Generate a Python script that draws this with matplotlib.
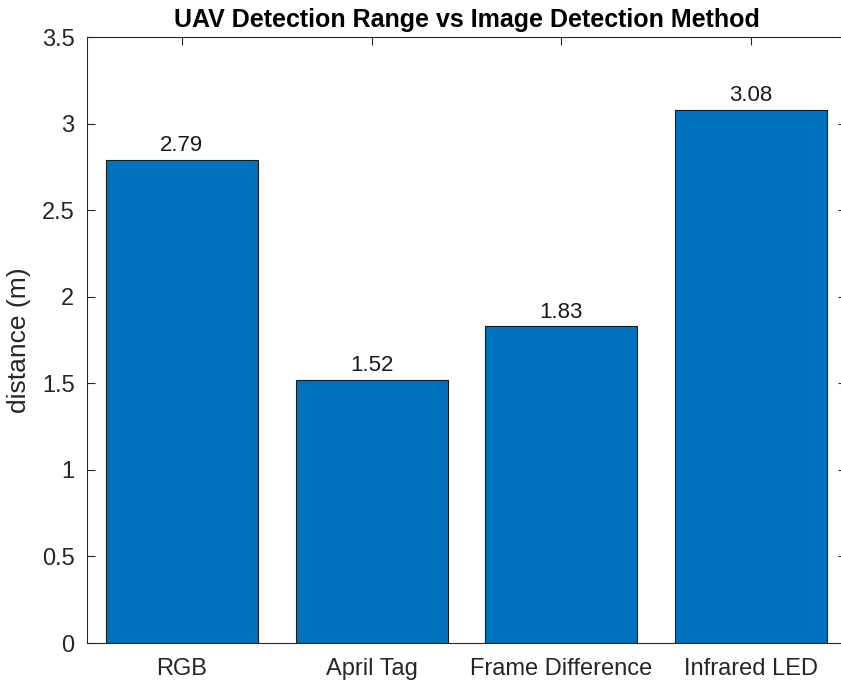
import matplotlib
matplotlib.use("Agg")
import matplotlib.pyplot as plt

categories = ["RGB", "April Tag", "Frame Difference", "Infrared LED"]
values = [2.79, 1.52, 1.83, 3.08]
yticks = [0, 0.5, 1, 1.5, 2, 2.5, 3, 3.5]
ytick_labels = ["0", "0.5", "1", "1.5", "2", "2.5", "3", "3.5"]

plt.rcParams['font.family'] = ['Liberation Sans', 'DejaVu Sans']
W, H = 841, 683
fig = plt.figure(figsize=(W / 100, H / 100), dpi=100)
left, right, top, bottom = 87, 846, 37, 643
ax = fig.add_axes([left / W, 1 - bottom / H, (right - left) / W, (bottom - top) / H])

x = list(range(1, len(categories) + 1))
bars = ax.bar(x, values, width=0.8, color="#0072BD", edgecolor="#1a1a1a", linewidth=0.8, zorder=2)
for xi, v in zip(x, values):
    ax.text(xi, v + 0.02, f"{v:.2f}", ha="center", va="bottom", fontsize=16, color="#1a1a1a")

ax.set_xlim(0.5, 4.5)
ax.set_ylim(0, 3.5)
ax.set_xticks(x)
ax.set_xticklabels(categories)
ax.set_yticks(yticks)
ax.set_yticklabels(ytick_labels)
ax.tick_params(direction="in", length=6, width=0.8, colors="#262626", labelsize=17,
               top=True, right=True, pad=9)
ax.tick_params(axis="x", pad=11)
for s in ax.spines.values():
    s.set_color("#262626")
    s.set_linewidth(0.8)
ax.spines["right"].set_visible(False)
ax.set_ylabel("distance (m)", fontsize=19, color="#262626", labelpad=8)
ax.set_title("UAV Detection Range vs Image Detection Method", fontsize=18, fontweight="bold",
             color="#000000", pad=7)

fig.savefig("out.png", dpi=100)
